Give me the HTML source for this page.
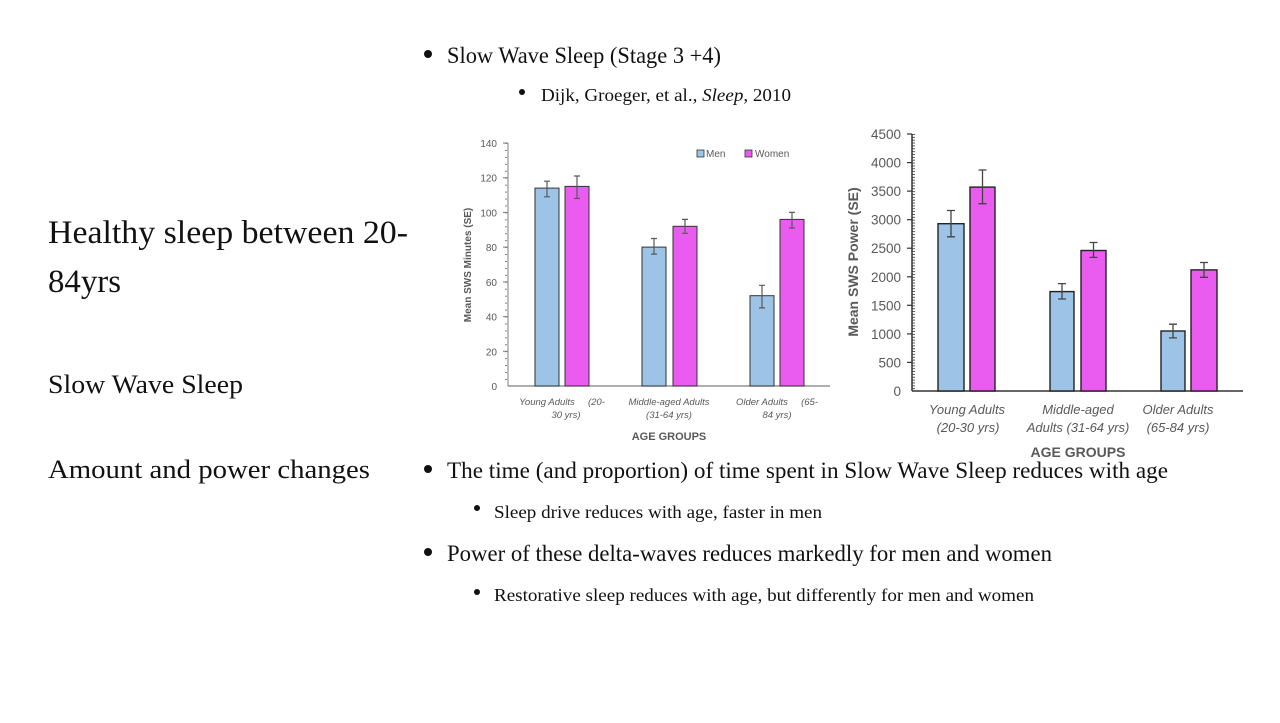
<!DOCTYPE html>
<html><head><meta charset="utf-8"><style>
html,body{margin:0;padding:0;background:#fff;width:1280px;height:723px;overflow:hidden}
svg{display:block}
.s{font-family:"Liberation Serif",serif;fill:#111}
.a{font-family:"Liberation Sans",sans-serif;fill:#595959}
</style></head><body>
<svg width="1280" height="723" viewBox="0 0 1280 723" xmlns="http://www.w3.org/2000/svg">
<circle cx="428" cy="54" r="4" fill="#111"/>
<text class="s" x="447" y="63" font-size="23" textLength="274" lengthAdjust="spacingAndGlyphs">Slow Wave Sleep (Stage 3 +4)</text>
<circle cx="522" cy="92" r="3" fill="#111"/>
<text class="s" x="541" y="101" font-size="18" textLength="250" lengthAdjust="spacingAndGlyphs">Dijk, Groeger, et al., <tspan font-style="italic">Sleep,</tspan> 2010</text>

<text class="s" x="48" y="243" font-size="33" textLength="360" lengthAdjust="spacingAndGlyphs">Healthy sleep between 20-</text>
<text class="s" x="48" y="292" font-size="33" textLength="73" lengthAdjust="spacingAndGlyphs">84yrs</text>
<text class="s" x="48" y="393" font-size="26" textLength="195" lengthAdjust="spacingAndGlyphs">Slow Wave Sleep</text>
<text class="s" x="48" y="478" font-size="26" textLength="322" lengthAdjust="spacingAndGlyphs">Amount and power changes</text>

<circle cx="428" cy="469" r="4" fill="#111"/>
<text class="s" x="447" y="478" font-size="23" textLength="721" lengthAdjust="spacingAndGlyphs">The time (and proportion) of time spent in Slow Wave Sleep reduces with age</text>
<circle cx="477" cy="508" r="3" fill="#111"/>
<text class="s" x="494" y="518" font-size="18" textLength="328" lengthAdjust="spacingAndGlyphs">Sleep drive reduces with age, faster in men</text>
<circle cx="428" cy="552" r="4" fill="#111"/>
<text class="s" x="447" y="561" font-size="23" textLength="605" lengthAdjust="spacingAndGlyphs">Power of these delta-waves reduces markedly for men and women</text>
<circle cx="477" cy="592" r="3" fill="#111"/>
<text class="s" x="494" y="601" font-size="18" textLength="540" lengthAdjust="spacingAndGlyphs">Restorative sleep reduces with age, but differently for men and women</text>

<!-- chart 1 -->
<defs>
<pattern id="m1" x="0" y="143" width="4" height="6.94" patternUnits="userSpaceOnUse"><line x1="0" y1="0.5" x2="3" y2="0.5" stroke="#7f7f7f" stroke-width="1"/></pattern>
<pattern id="m2" x="0" y="134" width="4" height="2.856" patternUnits="userSpaceOnUse"><line x1="0" y1="0.5" x2="3" y2="0.5" stroke="#333" stroke-width="0.8"/></pattern>
</defs>
<g>
<rect x="505" y="143" width="3" height="243" fill="url(#m1)"/>
<line x1="508" y1="143" x2="508" y2="386" stroke="#7f7f7f" stroke-width="1"/>
<line x1="508" y1="386" x2="830" y2="386" stroke="#7f7f7f" stroke-width="1.2"/>
<g stroke="#7f7f7f" stroke-width="1">
<line x1="503" y1="143" x2="508" y2="143"/><line x1="503" y1="177.7" x2="508" y2="177.7"/><line x1="503" y1="212.4" x2="508" y2="212.4"/><line x1="503" y1="247.1" x2="508" y2="247.1"/><line x1="503" y1="281.9" x2="508" y2="281.9"/><line x1="503" y1="316.6" x2="508" y2="316.6"/><line x1="503" y1="351.3" x2="508" y2="351.3"/>
</g>
<g class="a" font-size="10" text-anchor="end">
<text x="497" y="147">140</text><text x="497" y="181.7">120</text><text x="497" y="216.4">100</text><text x="497" y="251.1">80</text><text x="497" y="285.9">60</text><text x="497" y="320.6">40</text><text x="497" y="355.3">20</text><text x="497" y="390">0</text>
</g>
<text class="a" font-size="10" font-weight="bold" transform="translate(471,265) rotate(-90)" text-anchor="middle">Mean SWS Minutes (SE)</text>
<g stroke="#333" stroke-width="1">
<rect x="535" y="188.1" width="24" height="197.9" fill="#9dc3e6"/>
<rect x="565" y="186.4" width="24" height="199.6" fill="#ea5cf0"/>
<rect x="642" y="247.1" width="24" height="138.9" fill="#9dc3e6"/>
<rect x="673" y="226.3" width="24" height="159.7" fill="#ea5cf0"/>
<rect x="750" y="295.7" width="24" height="90.3" fill="#9dc3e6"/>
<rect x="780" y="219.4" width="24" height="166.6" fill="#ea5cf0"/>
</g>
<g stroke="#595959" stroke-width="1.2">
<path d="M547 196.8V181.2M544 196.8h6M544 181.2h6"/>
<path d="M577 198.5V176M574 198.5h6M574 176h6"/>
<path d="M654 254.1V238.5M651 254.1h6M651 238.5h6"/>
<path d="M685 233.3V219.4M682 233.3h6M682 219.4h6"/>
<path d="M762 307.9V285.3M759 307.9h6M759 285.3h6"/>
<path d="M792 228V212.4M789 228h6M789 212.4h6"/>
</g>
<rect x="697" y="150" width="7" height="7" fill="#9dc3e6" stroke="#333" stroke-width="0.8"/>
<text class="a" x="706" y="157" font-size="10">Men</text>
<rect x="745" y="150" width="7" height="7" fill="#ea5cf0" stroke="#333" stroke-width="0.8"/>
<text class="a" x="755" y="157" font-size="10">Women</text>
<g class="a" font-size="9.5" font-style="italic" text-anchor="middle">
<text x="562" y="405">Young Adults&#160;&#160;&#160;&#160;&#160;(20-</text><text x="566" y="418">30 yrs)</text>
<text x="669" y="405">Middle-aged Adults</text><text x="669" y="418">(31-64 yrs)</text>
<text x="777" y="405">Older Adults&#160;&#160;&#160;&#160;&#160;(65-</text><text x="777" y="418">84 yrs)</text>
</g>
<text class="a" x="669" y="440" font-size="11" font-weight="bold" text-anchor="middle">AGE GROUPS</text>
</g>

<!-- chart 2 -->
<g>
<rect x="912" y="134" width="3" height="257" fill="url(#m2)"/>
<line x1="912" y1="134" x2="912" y2="391" stroke="#333" stroke-width="1.5"/>
<line x1="912" y1="391" x2="1243" y2="391" stroke="#333" stroke-width="1.5"/>
<g stroke="#333" stroke-width="1.2">
<line x1="907" y1="134" x2="912" y2="134"/><line x1="907" y1="162.6" x2="912" y2="162.6"/><line x1="907" y1="191.1" x2="912" y2="191.1"/><line x1="907" y1="219.7" x2="912" y2="219.7"/><line x1="907" y1="248.2" x2="912" y2="248.2"/><line x1="907" y1="276.8" x2="912" y2="276.8"/><line x1="907" y1="305.3" x2="912" y2="305.3"/><line x1="907" y1="333.9" x2="912" y2="333.9"/><line x1="907" y1="362.4" x2="912" y2="362.4"/>
</g>
<g class="a" font-size="13.5" text-anchor="end">
<text x="901" y="139">4500</text><text x="901" y="167.6">4000</text><text x="901" y="196.1">3500</text><text x="901" y="224.7">3000</text><text x="901" y="253.2">2500</text><text x="901" y="281.8">2000</text><text x="901" y="310.3">1500</text><text x="901" y="338.9">1000</text><text x="901" y="367.4">500</text><text x="901" y="396">0</text>
</g>
<text class="a" font-size="14" font-weight="bold" transform="translate(858,262) rotate(-90)" text-anchor="middle">Mean SWS Power (SE)</text>
<g stroke="#222" stroke-width="1.4">
<rect x="938" y="223.7" width="26" height="167.3" fill="#9dc3e6"/>
<rect x="970" y="187.1" width="25" height="203.9" fill="#ea5cf0"/>
<rect x="1050" y="291.6" width="24" height="99.4" fill="#9dc3e6"/>
<rect x="1081" y="250.5" width="25" height="140.5" fill="#ea5cf0"/>
<rect x="1161" y="331" width="24" height="60" fill="#9dc3e6"/>
<rect x="1191" y="269.9" width="26" height="121.1" fill="#ea5cf0"/>
</g>
<g stroke="#444" stroke-width="1.3">
<path d="M951 236.8V210.5M947 236.8h8M947 210.5h8"/>
<path d="M982.5 203.7V170M978.5 203.7h8M978.5 170h8"/>
<path d="M1062 299V283.6M1058 299h8M1058 283.6h8"/>
<path d="M1093.5 257.4V242.5M1089.5 257.4h8M1089.5 242.5h8"/>
<path d="M1173 337.9V324.2M1169 337.9h8M1169 324.2h8"/>
<path d="M1204 277.3V262.5M1200 277.3h8M1200 262.5h8"/>
</g>
<g class="a" font-size="13" font-style="italic" text-anchor="middle">
<text x="967" y="414">Young Adults</text><text x="968" y="432">(20-30 yrs)</text>
<text x="1078" y="414">Middle-aged</text><text x="1078" y="432">Adults (31-64 yrs)</text>
<text x="1178" y="414">Older Adults</text><text x="1178" y="432">(65-84 yrs)</text>
</g>
<text class="a" x="1078" y="457" font-size="14" font-weight="bold" text-anchor="middle">AGE GROUPS</text>
</g>
</svg>
</body></html>
